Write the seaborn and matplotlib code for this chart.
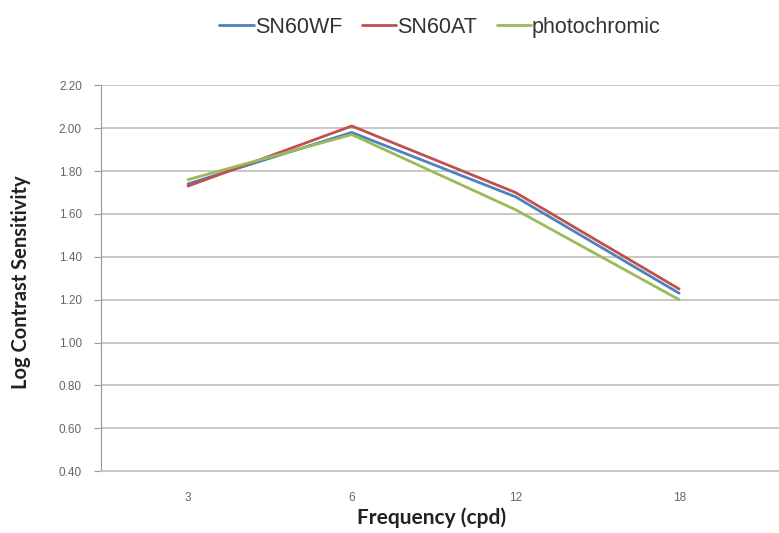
import pandas as pd
import seaborn as sns
import matplotlib.pyplot as plt

# data
frequency = ["3", "6", "12", "18"]
sn60wf = [1.74, 1.98, 1.68, 1.23]
sn60at = [1.73, 2.01, 1.70, 1.25]
photochromic = [1.76, 1.97, 1.62, 1.20]

series = ["SN60WF", "SN60AT", "photochromic"]
colors = ["#4F81BD", "#C0504D", "#9BBB59"]

df = pd.DataFrame({
    "freq": frequency * 3,
    "value": sn60wf + sn60at + photochromic,
    "lens": [s for s in series for _ in frequency],
})

sns.set_style("white")
plt.rcParams["font.family"] = ["Liberation Sans", "DejaVu Sans"]

fig, ax = plt.subplots(figsize=(7.79, 5.33), dpi=100)
fig.subplots_adjust(left=0.13, right=1.0, top=0.84, bottom=0.116)

sns.lineplot(data=df, x="freq", y="value", hue="lens", palette=colors,
             linewidth=2, ax=ax, sort=False)

ax.set_xlim(-0.53, 3.61)
ax.set_ylim(0.4, 2.2)
ax.set_yticks([0.4 + 0.2 * i for i in range(10)])
ax.set_yticklabels([f"{0.4 + 0.2 * i:.2f}" for i in range(10)])
ax.yaxis.grid(True, color="#C4C4C4", linewidth=1.3)
ax.tick_params(axis="both", labelsize=8.5, colors="#666666")
ax.tick_params(axis="y", length=5, left=True, color="#999999", pad=9)
ax.tick_params(axis="x", length=0, pad=15)

for s in ["top", "right"]:
    ax.spines[s].set_visible(False)
ax.spines["left"].set_color("#999999")
ax.spines["bottom"].set_color("#C4C4C4")
ax.spines["bottom"].set_linewidth(1.3)

ax.set_xlabel("Frequency (cpd)", fontsize=15, fontweight="bold", color="#222222",
              family=["Lato", "DejaVu Sans"])
ax.xaxis.set_label_coords(0.487, -0.095)
ax.set_ylabel("Log Contrast Sensitivity", fontsize=14.5, fontweight="bold", color="#222222",
              family=["Lato", "DejaVu Sans"])
ax.yaxis.set_label_coords(-0.103, 0.49)

ax.legend(loc="center", bbox_to_anchor=(0.5, 1.15), ncol=3, frameon=False,
          fontsize=15.5, handlelength=1.6, handletextpad=0.05, columnspacing=0.9,
          labelcolor="#333333")

plt.savefig("out.png", dpi=100)
